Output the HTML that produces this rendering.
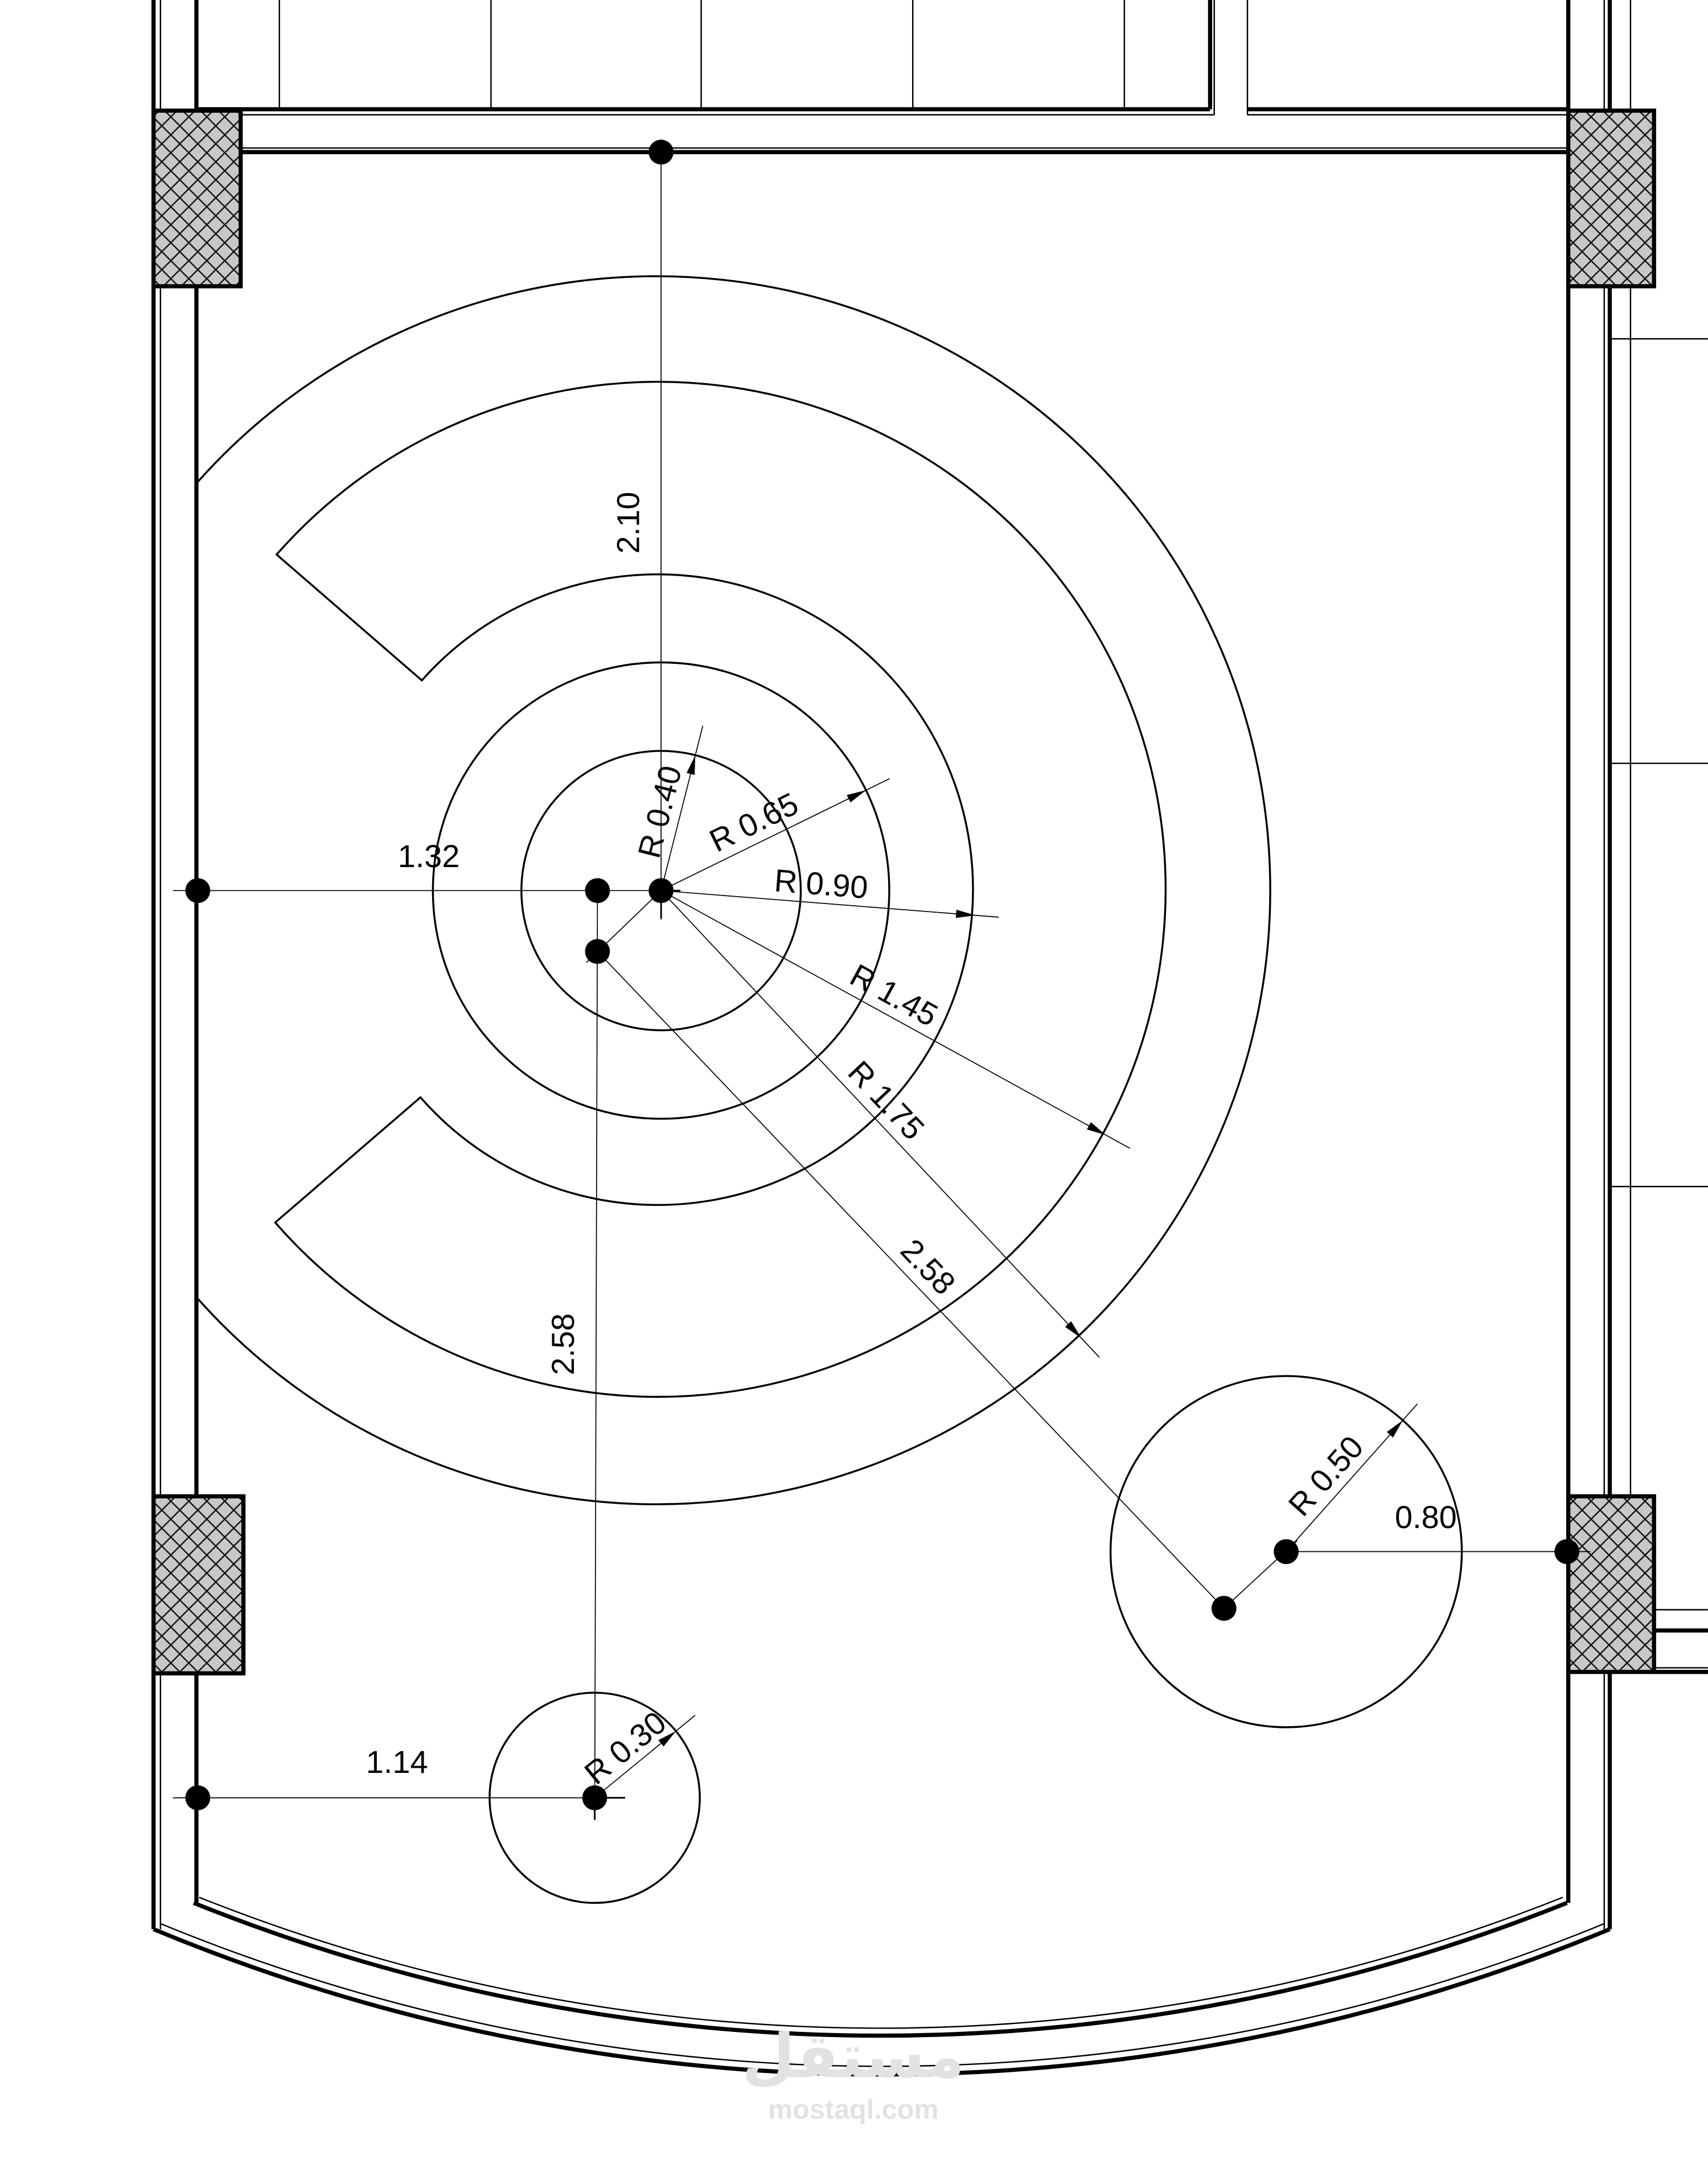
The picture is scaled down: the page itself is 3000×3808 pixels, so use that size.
<!DOCTYPE html>
<html><head><meta charset="utf-8"><style>
html,body{margin:0;padding:0;background:#fff;}
svg{display:block;}
text{font-family:"Liberation Sans",sans-serif;font-size:23px;fill:#000;}
</style></head><body>
<svg width="3000" height="3808" viewBox="0 0 1235 1567.7" xmlns="http://www.w3.org/2000/svg">
<defs>
<pattern id="h" width="13" height="13" patternUnits="userSpaceOnUse">
<rect width="13" height="13" fill="#c8c8c8"/>
<path d="M0 0L13 13M13 0L0 13" stroke="#111" stroke-width="1"/>
</pattern>
</defs>
<rect width="1235" height="1568" fill="#fff"/>
<g fill="none" stroke="#000">
<g stroke-width="1">
<line x1="202" y1="0" x2="202" y2="79"/><line x1="355" y1="0" x2="355" y2="79"/>
<line x1="507" y1="0" x2="507" y2="79"/><line x1="660" y1="0" x2="660" y2="79"/>
<line x1="813" y1="0" x2="813" y2="79"/>
<line x1="875" y1="0" x2="875" y2="79"/><line x1="878" y1="0" x2="878" y2="83"/>
<line x1="902" y1="0" x2="902" y2="83"/>
<line x1="142" y1="83" x2="878" y2="83"/><line x1="902" y1="83" x2="1134" y2="83"/>
<line x1="174" y1="107" x2="1134" y2="107"/>
<line x1="1179" y1="0" x2="1179" y2="80"/>
<line x1="1179" y1="207" x2="1179" y2="1082"/>
<line x1="1165" y1="245" x2="1235" y2="245"/>
<line x1="1165" y1="552" x2="1235" y2="552"/>
<line x1="1165" y1="858" x2="1235" y2="858"/>
<line x1="1197" y1="1164" x2="1235" y2="1164"/>
<line x1="1197" y1="1206" x2="1235" y2="1206"/>
<line x1="1160" y1="0" x2="1160" y2="1395"/>
<line x1="116" y1="0" x2="116" y2="1395"/>
</g>
<g stroke-width="3">
<line x1="142" y1="0" x2="142" y2="79"/>
<line x1="875" y1="0" x2="875" y2="79"/>
<line x1="142" y1="79" x2="875" y2="79"/><line x1="902" y1="79" x2="1134" y2="79"/>
<line x1="174" y1="110" x2="1134" y2="110"/>
<line x1="111" y1="0" x2="111" y2="1395"/>
<line x1="142" y1="207" x2="142" y2="1082"/>
<line x1="142" y1="1210" x2="142" y2="1376"/>
<line x1="1134" y1="0" x2="1134" y2="1376"/>
<line x1="1164" y1="0" x2="1164" y2="80"/>
<line x1="1164" y1="207" x2="1164" y2="1082"/>
<line x1="1164" y1="1210" x2="1164" y2="1395"/>
<line x1="1197" y1="1179" x2="1235" y2="1179"/>
<line x1="1197" y1="1209" x2="1235" y2="1209"/>
<path d="M111 1395 A1372 1372 0 0 0 1164 1395"/>
<path d="M140 1376 A1332 1332 0 0 0 1133 1376"/>
</g>
<g stroke-width="1">
<path d="M116 1391 A1372 1372 0 0 0 1160 1391"/>
<path d="M144 1372 A1332 1332 0 0 0 1130 1372"/>
</g>
<g stroke-width="3" fill="url(#h)">
<rect x="111" y="80" width="63" height="127"/>
<rect x="1134" y="80" width="62" height="127"/>
<rect x="111" y="1082" width="65" height="128"/>
<rect x="1134" y="1082" width="62" height="127"/>
</g>
<g stroke-width="1.4">
<circle cx="478" cy="644" r="101"/>
<circle cx="478" cy="644" r="165"/>
<path d="M305 492 A228 228 0 1 1 304 793.5 L199 884 A367 367 0 1 0 200 401 Z"/>
<path d="M142 349.5 A444 444 0 1 1 142 938"/>
<circle cx="930" cy="1122" r="127"/>
<circle cx="430" cy="1300" r="76"/>
</g>
<g stroke-width="0.7">
<line x1="478" y1="110" x2="478" y2="665"/>
<line x1="125" y1="644" x2="478" y2="644"/>
<line x1="432" y1="643" x2="430" y2="1312"/>
<line x1="478" y1="644" x2="424" y2="696"/>
<line x1="432" y1="688" x2="885" y2="1163"/>
<line x1="885" y1="1163" x2="938" y2="1114"/>
<line x1="930" y1="1122" x2="1150" y2="1122"/>
<line x1="125" y1="1300" x2="452" y2="1300"/>
</g>
</g>
<g stroke="#000" stroke-width="0.7" fill="#000">
<g transform="translate(478,644) rotate(-75.8)"><line x1="0" y1="0" x2="123" y2="0"/><polygon points="101,0 87,-3 87,3" stroke="none"/></g>
<g transform="translate(478,644) rotate(-26.1)"><line x1="0" y1="0" x2="184" y2="0"/><polygon points="165,0 151,-3 151,3" stroke="none"/></g>
<g transform="translate(478,644) rotate(4.5)"><line x1="0" y1="0" x2="245" y2="0"/><polygon points="228,0 214,-3 214,3" stroke="none"/></g>
<g transform="translate(478,644) rotate(28.8)"><line x1="0" y1="0" x2="387" y2="0"/><polygon points="367,0 353,-3 353,3" stroke="none"/></g>
<g transform="translate(478,644) rotate(46.8)"><line x1="0" y1="0" x2="463" y2="0"/><polygon points="444,0 430,-3 430,3" stroke="none"/></g>
<g transform="translate(930,1122) rotate(-48.4)"><line x1="0" y1="0" x2="143" y2="0"/><polygon points="127,0 113,-3 113,3" stroke="none"/></g>
<g transform="translate(430,1300) rotate(-39.4)"><line x1="0" y1="0" x2="94" y2="0"/><polygon points="76,0 62,-3 62,3" stroke="none"/></g>
</g>
<g fill="#000">
<circle cx="478" cy="110" r="9"/>
<circle cx="143" cy="644" r="9"/>
<circle cx="432" cy="644" r="9"/>
<circle cx="478" cy="644" r="9"/>
<circle cx="432" cy="688" r="9"/>
<circle cx="930" cy="1122" r="9"/>
<circle cx="885" cy="1163" r="9"/>
<circle cx="1133" cy="1122" r="9"/>
<circle cx="143" cy="1300" r="9"/>
<circle cx="430" cy="1300" r="9"/>
</g>
<g stroke="#000" stroke-width="1.2">
<line x1="478" y1="644" x2="478" y2="664"/><line x1="478" y1="644" x2="492" y2="644"/>
<line x1="430" y1="1300" x2="452" y2="1300"/><line x1="430" y1="1300" x2="430" y2="1316"/>
</g>
<text x="310" y="627" text-anchor="middle">1.32</text>
<text x="287" y="1282" text-anchor="middle">1.14</text>
<text x="1031" y="1105" text-anchor="middle">0.80</text>
<text transform="translate(462,378) rotate(-90)" text-anchor="middle">2.10</text>
<text transform="translate(415,972) rotate(-90)" text-anchor="middle">2.58</text>
<text transform="translate(432,688) rotate(46.4) translate(330,-8)" text-anchor="middle">2.58</text>
<text transform="translate(478,644) rotate(-75.8) translate(55,-7)" text-anchor="middle">R 0.40</text>
<text transform="translate(478,644) rotate(-26.1) translate(82,-7)" text-anchor="middle">R 0.65</text>
<text transform="translate(478,644) rotate(4.5) translate(115,-6)" text-anchor="middle">R 0.90</text>
<text transform="translate(478,644) rotate(28.8) translate(184,-7)" text-anchor="middle">R 1.45</text>
<text transform="translate(478,644) rotate(46.8) translate(222,-7)" text-anchor="middle">R 1.75</text>
<text transform="translate(930,1122) rotate(-48.4) translate(60,-7)" text-anchor="middle">R 0.50</text>
<text transform="translate(430,1300) rotate(-39.4) translate(40,-6)" text-anchor="middle">R 0.30</text>
<text x="617" y="1502" text-anchor="middle" style="font-family:'Liberation Sans','DejaVu Sans',sans-serif;font-size:44px;font-weight:bold;fill:#e2e2e2">مستقل</text>
<text x="617" y="1532" text-anchor="middle" style="font-size:20px;font-weight:bold;fill:#e2e2e2">mostaql.com</text>
</svg>
</body></html>
